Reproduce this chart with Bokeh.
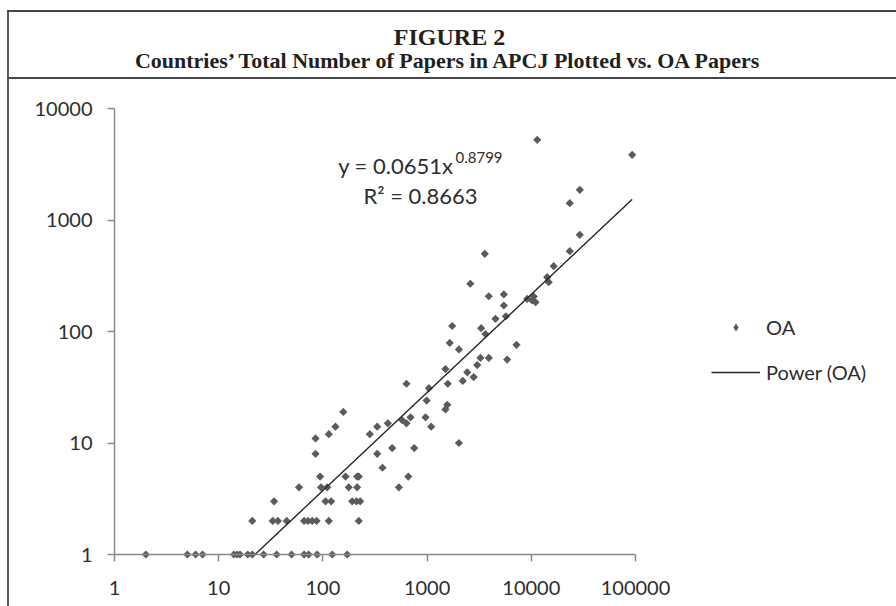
import numpy as np
from bokeh.plotting import figure
from bokeh.models import Range1d, FixedTicker, Label, Legend, LegendItem
from bokeh.embed import file_html
from bokeh.resources import INLINE

# ---------------- data ----------------
title_line1 = "FIGURE 2"
title_line2 = "Countries\u2019 Total Number of Papers in APCJ Plotted vs. OA Papers"

series_name = "OA"
trend_name = "Power (OA)"

total_papers = [
    2, 5, 6, 7, 14, 15, 16, 19, 21, 27, 36, 50, 66, 73, 88, 123, 171,
    21, 33, 37, 45, 66, 72, 79, 87, 114, 221,
    34, 106, 120, 191, 210, 228,
    59, 96, 110, 177, 213, 536,
    94, 165, 213, 221, 660,
    373, 85, 332, 462, 752, 2020, 85, 114, 282, 132, 332, 1094, 420, 634,
    577, 693, 966, 157, 1500, 1560, 990, 1040, 634, 1580, 2200, 2800, 2430,
    1500, 3030, 5870, 3250, 3910, 2020, 7210, 1650, 3630, 3300, 1740, 4530,
    5700, 5450, 11000, 10200, 9140, 10570, 3910, 5450, 2600, 14700, 14200,
    16400, 3580, 23400, 29200, 23400, 29200, 92900, 11400,
]
oa_papers = [
    1, 1, 1, 1, 1, 1, 1, 1, 1, 1, 1, 1, 1, 1, 1, 1, 1,
    2, 2, 2, 2, 2, 2, 2, 2, 2, 2,
    3, 3, 3, 3, 3, 3,
    4, 4, 4, 4, 4, 4,
    5, 5, 5, 5, 5,
    6, 8, 8, 9, 9, 10, 11, 12, 12, 14, 14, 14, 15, 15,
    16, 17, 17, 19, 20, 22, 24, 31, 34, 34, 36, 39, 43,
    46, 50, 56, 58, 58, 69, 76, 79, 95, 107, 112, 130,
    137, 171, 183, 190, 196, 206, 207, 215, 268, 277, 307,
    385, 497, 525, 736, 1415, 1866, 3845, 5240,
]
assert len(total_papers) == len(oa_papers)

fit_coef = 0.0651
fit_exp = 0.8799
fit_coef_text = "0.0651"
fit_exp_text = "0.8799"
r2_text = "0.8663"

x_ticks = [1, 10, 100, 1000, 10000, 100000]
x_tick_labels = ["1", "10", "100", "1000", "10000", "100000"]
y_ticks = [1, 10, 100, 1000, 10000]
y_tick_labels = ["1", "10", "100", "1000", "10000"]

# ---------------- styling / layout ----------------
FONT = "Lato"
SERIF = "Liberation Serif"
AXIS_GRAY = "#8a8a8a"
POINT_GRAY = "#5b5b5b"
TEXT = "#2e2e2e"
RULE = "#474747"

W, H = 896, 606
# plot area in page pixels: x axis 1 -> 1e5 spans 114..635, y axis 1 -> 1e4 spans 554..108
AX_L, AX_R = 114, 635
AX_B, AX_T = 554, 108
XDEC = (AX_R - AX_L) / (np.log10(x_ticks[-1]) - np.log10(x_ticks[0]))
YDEC = (AX_B - AX_T) / (np.log10(y_ticks[-1]) - np.log10(y_ticks[0]))
x_lo = 10 ** (np.log10(x_ticks[0]) - AX_L / XDEC)
x_hi = 10 ** (np.log10(x_ticks[0]) + (W - AX_L) / XDEC)
y_lo = 10 ** (np.log10(y_ticks[0]) - (H - AX_B) / YDEC)
y_hi = 10 ** (np.log10(y_ticks[0]) + AX_B / YDEC)

# caption box rules, drawn as page decoration behind the (transparent) canvas
rules_css = (
    f"linear-gradient({RULE},{RULE}) 7px 10px / 100% 2px no-repeat, "
    f"linear-gradient({RULE},{RULE}) 7px 77px / 100% 2px no-repeat, "
    f"linear-gradient(#5c5c5c,#5c5c5c) 7px 10px / 2px 100% no-repeat, "
    "#ffffff"
)

p = figure(width=W, height=H, toolbar_location=None, output_backend="svg",
           x_axis_type="log", y_axis_type="log",
           x_range=Range1d(x_lo, x_hi), y_range=Range1d(y_lo, y_hi),
           min_border=0, min_border_left=0, min_border_right=0,
           min_border_top=0, min_border_bottom=0,
           outline_line_color=None,
           background_fill_color="white", background_fill_alpha=0,
           border_fill_color="white", border_fill_alpha=0,
           styles={"background": rules_css})
p.grid.visible = False

xa = p.xaxis[0]
xa.fixed_location = y_ticks[0]
xa.bounds = (x_ticks[0], x_ticks[-1])
xa.ticker = FixedTicker(ticks=x_ticks, minor_ticks=[])
xa.major_label_overrides = {t: l for t, l in zip(x_ticks, x_tick_labels)}
xa.axis_line_color = AXIS_GRAY
xa.axis_line_width = 1.5
xa.major_tick_in = 0
xa.major_tick_out = 7
xa.major_tick_line_color = AXIS_GRAY
xa.major_tick_line_width = 1.5
xa.minor_tick_line_color = None
xa.major_label_standoff = 19
xa.major_label_text_font = FONT
xa.major_label_text_font_size = "20px"
xa.major_label_text_color = TEXT

ya = p.yaxis[0]
ya.fixed_location = x_ticks[0]
ya.bounds = (y_ticks[0], y_ticks[-1])
ya.ticker = FixedTicker(ticks=y_ticks, minor_ticks=[])
ya.major_label_overrides = {t: l for t, l in zip(y_ticks, y_tick_labels)}
ya.axis_line_color = AXIS_GRAY
ya.axis_line_width = 1.5
ya.major_tick_in = 0
ya.major_tick_out = 7
ya.major_tick_line_color = AXIS_GRAY
ya.major_tick_line_width = 1.5
ya.minor_tick_line_color = None
ya.major_label_standoff = 15
ya.major_label_text_font = FONT
ya.major_label_text_font_size = "20px"
ya.major_label_text_color = TEXT

pts = p.scatter(x=total_papers, y=oa_papers, marker="square", size=5.8,
                angle=np.pi / 4, fill_color=POINT_GRAY, line_color=None)
# hidden copy of the series, used only for its diamond legend swatch
pts_key = p.scatter(x=total_papers, y=oa_papers, marker="diamond", size=8,
                    fill_color=POINT_GRAY, line_color=None, visible=False)

# power trend line, shown inside the plot area only (y >= 1, like the source chart)
x_start = max(min(total_papers), (y_ticks[0] / fit_coef) ** (1.0 / fit_exp))
xs = np.logspace(np.log10(x_start), np.log10(max(total_papers)), 400)
ys = fit_coef * xs ** fit_exp
trend = p.line(x=xs, y=ys, line_color="#262626", line_width=1.4)

# series legend (screen position from the bottom-left of the canvas)
LEG_LEFT, LEG_BOTTOM = 711, 383.7
legend = Legend(items=[LegendItem(label=series_name, renderers=[pts_key]),
                       LegendItem(label=trend_name, renderers=[trend])],
                location=(LEG_LEFT, H - LEG_BOTTOM), glyph_width=49, glyph_height=20,
                label_height=20, spacing=21, padding=0, margin=0,
                label_standoff=6, border_line_color=None,
                background_fill_alpha=0, label_text_font=FONT,
                label_text_font_size="20px", label_text_color=TEXT)
p.add_layout(legend)

# trend-line equation
eq_main = Label(x=453, y=H - 165, x_units="screen", y_units="screen",
                text="y = " + fit_coef_text + "x", text_font=FONT,
                text_font_size="22px", text_color=TEXT, text_align="right",
                text_baseline="alphabetic")
eq_sup = Label(x=455, y=H - 157.3, x_units="screen", y_units="screen",
               text=fit_exp_text, text_font=FONT, text_font_size="15px",
               text_color=TEXT, text_align="left", text_baseline="alphabetic")
eq_r2 = Label(x=420, y=H - 195, x_units="screen", y_units="screen",
              text="R\u00b2 = " + r2_text, text_font=FONT, text_font_size="22px",
              text_color=TEXT, text_align="center", text_baseline="alphabetic")
for lab in (eq_main, eq_sup, eq_r2):
    p.add_layout(lab)

# caption
t1 = Label(x=449, y=H - 36, x_units="screen", y_units="screen",
           text=title_line1, text_font=SERIF, text_font_style="bold",
           text_font_size="24px", text_color="#231f20",
           text_align="center", text_baseline="middle")
t2 = Label(x=449, y=H - 60, x_units="screen", y_units="screen",
           text=title_line2, text_font=SERIF, text_font_style="bold",
           text_font_size="22px", text_color="#231f20",
           text_align="center", text_baseline="middle")
p.add_layout(t1)
p.add_layout(t2)

open("out.html", "w").write(file_html(p, INLINE))
